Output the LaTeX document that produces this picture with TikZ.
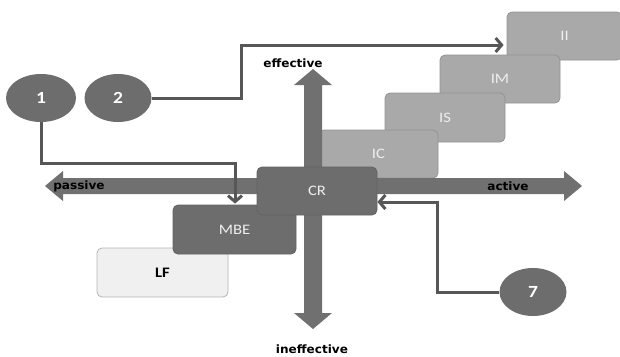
\documentclass[tikz,border=0pt]{standalone}
\usepackage{fontspec}
\setmainfont{Carlito}
\newfontfamily\boxfont[FakeStretch=1.15]{Carlito}
\newfontfamily\axisfont[FakeStretch=1.05]{DejaVu Sans}
\usetikzlibrary{arrows.meta,shapes.geometric}
\definecolor{darkfill}{HTML}{6D6D6D}
\definecolor{arrowfill}{HTML}{707070}
\definecolor{midfill}{HTML}{A9A9A9}
\definecolor{midline}{HTML}{939393}
\definecolor{lightfill}{HTML}{F0F0F0}
\definecolor{lightline}{HTML}{B4B4B4}
\definecolor{connline}{HTML}{575757}
\definecolor{boxtext}{HTML}{EEEEEE}
\tikzset{
  stage/.style={rectangle, rounded corners=5pt, inner sep=0pt, line width=0.8pt,
    font=\boxfont\fontsize{14.5}{16}\selectfont},
  midbox/.style={stage, fill=midfill, draw=midline, text=boxtext},
  darkbox/.style={stage, fill=darkfill, draw=darkfill!90!black, text=boxtext},
  lightbox/.style={stage, fill=lightfill, draw=lightline, text=black,
    font=\boxfont\bfseries\fontsize{14.5}{16}\selectfont},
  num/.style={ellipse, fill=darkfill, inner sep=0pt, text=white,
    font=\boxfont\bfseries\fontsize{17}{19}\selectfont},
  axislabel/.style={font=\axisfont\bfseries\fontsize{11.5}{13}\selectfont, text=black, inner sep=0pt},
  conn/.style={draw=connline, line width=3pt,
    -{Straight Barb[length=6pt,width=14pt]}},
}
\begin{document}
\begin{tikzpicture}[x=1pt,y=-1pt]
\useasboundingbox (0,0) rectangle (620,356);
% staircase boxes
\node[midbox, minimum width=115pt, minimum height=48pt] (II) at (564.5,36) {II};
\node[midbox, minimum width=120pt, minimum height=48pt] (IM) at (500,79) {IM};
\node[midbox, minimum width=120pt, minimum height=49pt] (IS) at (445,117.5) {IS};
\node[midbox, minimum width=119pt, minimum height=48pt] (IC) at (378.5,154) {IC};
% axes
\fill[arrowfill] (45,186) -- (63,171) -- (63,178) -- (564,178) -- (564,171) -- (582,186)
  -- (564,201) -- (564,194) -- (63,194) -- (63,201) -- cycle;
\fill[arrowfill] (313,69) -- (332,85) -- (322,85) -- (322,313) -- (332,313) -- (313,329)
  -- (294,313) -- (304,313) -- (304,85) -- (294,85) -- cycle;
\node[axislabel] (eff) at (293,63) {effective};
\node[axislabel] (ineff) at (312,349) {ineffective};
\node[axislabel] (pas) at (79,186) {passive};
\node[axislabel] (act) at (508,186) {active};
% lower boxes
\node[lightbox, minimum width=131pt, minimum height=49pt] (LF) at (162.5,272.5) {LF};
\node[darkbox, minimum width=123pt, minimum height=49pt] (MBE) at (234.5,229.5) {MBE};
\node[darkbox, minimum width=120pt, minimum height=48pt] (CR) at (317,191) {CR};
% numbered ellipses
\node[num, minimum width=70pt, minimum height=48pt] (e1) at (41,98) {1};
\node[num, minimum width=67pt, minimum height=48pt] (e2) at (118,98) {2};
\node[num, minimum width=67pt, minimum height=48pt] (e7) at (533,292) {7};
% connectors
\coordinate (c2) at (241,45);
\draw[conn, shorten >=3pt] (e2.east) -| (c2) -- (c2 -| II.west);
\coordinate (c1) at (235,163);
\draw[conn, shorten >=1pt] (e1.south) |- (c1) -- (c1 |- MBE.north);
\coordinate (c7) at (437,202);
\draw[conn, shorten >=0pt] (e7.west) -| (c7) -- (c7 -| CR.east);
\end{tikzpicture}
\end{document}
